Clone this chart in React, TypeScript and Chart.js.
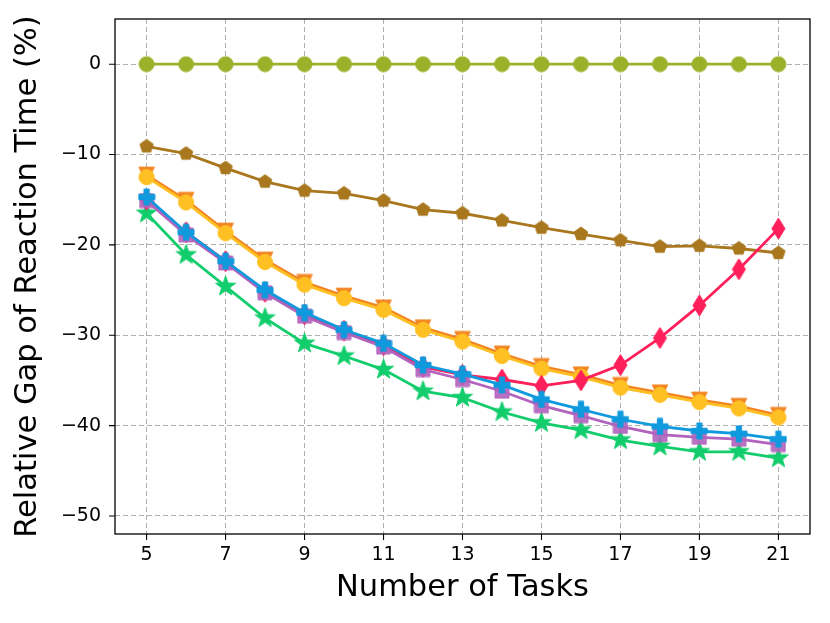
import { useEffect, useRef } from 'react';
import { Chart, registerables } from 'chart.js';
import type { Plugin } from 'chart.js';

Chart.register(...registerables);

// x values: number of tasks
const tasks = [5, 6, 7, 8, 9, 10, 11, 12, 13, 14, 15, 16, 17, 18, 19, 20, 21];

// relative gap of reaction time (%) per series
const baseline = [0, 0, 0, 0, 0, 0, 0, 0, 0, 0, 0, 0, 0, 0, 0, 0, 0];
const pentagonSeries = [-9.1, -9.9, -11.5, -13.0, -14.0, -14.3, -15.1, -16.1, -16.5, -17.3, -18.1, -18.8, -19.5, -20.2, -20.1, -20.4, -20.9];
const triangleSeries = [-12.25, -15.05, -18.45, -21.65, -24.15, -25.65, -26.95, -29.15, -30.45, -32.05, -33.45, -34.35, -35.55, -36.35, -37.15, -37.85, -38.85];
const circleSeries = [-12.5, -15.3, -18.7, -21.9, -24.4, -25.9, -27.2, -29.4, -30.7, -32.3, -33.7, -34.6, -35.8, -36.6, -37.4, -38.1, -39.1];
const diamondSeries = [-15.0, -18.6, -21.8, -25.2, -27.7, -29.5, -31.1, -33.5, -34.4, -34.9, -35.6, -35.0, -33.3, -30.3, -26.7, -22.7, -18.2];
const squareSeries = [-15.1, -18.9, -22.0, -25.3, -27.9, -29.7, -31.3, -33.8, -34.9, -36.2, -37.8, -38.9, -40.1, -41.0, -41.3, -41.5, -42.1];
const plusSeries = [-14.7, -18.6, -21.8, -25.0, -27.5, -29.4, -30.9, -33.3, -34.3, -35.5, -37.1, -38.2, -39.3, -40.1, -40.6, -40.9, -41.5];
const starSeries = [-16.5, -21.1, -24.6, -28.1, -30.9, -32.3, -33.8, -36.2, -36.9, -38.5, -39.7, -40.5, -41.6, -42.3, -42.9, -42.9, -43.6];

const xTicks = [5, 7, 9, 11, 13, 15, 17, 19, 21];
const yTicks = [-50, -40, -30, -20, -10, 0];

type Shape = 'circle' | 'pentagon' | 'triangleDown' | 'diamond' | 'square' | 'plus' | 'star';

// build a small canvas used as a point style
function marker(shape: Shape, color: string, h: number, alpha = 1): HTMLCanvasElement {
    const size = Math.ceil(2 * h + 2);
    const c = document.createElement('canvas');
    c.width = size;
    c.height = size;
    const ctx = c.getContext('2d')!;
    ctx.globalAlpha = alpha;
    ctx.fillStyle = color;
    ctx.strokeStyle = color;
    ctx.lineWidth = 1;
    ctx.translate(size / 2, size / 2);
    ctx.beginPath();
    const poly = (pts: number[][]) => {
        pts.forEach(([px, py], i) => (i === 0 ? ctx.moveTo(px, py) : ctx.lineTo(px, py)));
        ctx.closePath();
    };
    if (shape === 'circle') {
        ctx.arc(0, 0, h, 0, Math.PI * 2);
    } else if (shape === 'pentagon') {
        const pts = [];
        for (let k = 0; k < 5; k++) {
            const a = -Math.PI / 2 + (k * 2 * Math.PI) / 5;
            pts.push([Math.cos(a) * h, Math.sin(a) * h]);
        }
        poly(pts);
    } else if (shape === 'triangleDown') {
        poly([[-h, -h], [h, -h], [0, h]]);
    } else if (shape === 'diamond') {
        poly([[0, -h], [0.62 * h, 0], [0, h], [-0.62 * h, 0]]);
    } else if (shape === 'square') {
        poly([[-h, -h], [h, -h], [h, h], [-h, h]]);
    } else if (shape === 'plus') {
        const t = h / 3;
        poly([[-t, -h], [t, -h], [t, -t], [h, -t], [h, t], [t, t], [t, h], [-t, h], [-t, t], [-h, t], [-h, -t], [-t, -t]]);
    } else {
        const pts = [];
        for (let k = 0; k < 10; k++) {
            const r = k % 2 === 0 ? h : h * 0.4;
            const a = -Math.PI / 2 + (k * Math.PI) / 5;
            pts.push([Math.cos(a) * r, Math.sin(a) * r]);
        }
        poly(pts);
    }
    ctx.fill();
    ctx.stroke();
    return c;
}

const minus = (v: number) => (v < 0 ? '\u2212' + Math.abs(v) : String(v));

// black box around the plot plus outward tick marks
const framePlugin: Plugin<'line'> = {
    id: 'frame',
    afterDatasetsDraw(chart) {
        const { ctx, chartArea: a, scales } = chart;
        ctx.save();
        ctx.strokeStyle = '#000';
        ctx.lineWidth = 1.3;
        ctx.strokeRect(a.left, a.top, a.right - a.left, a.bottom - a.top);
        ctx.lineWidth = 1.1;
        ctx.beginPath();
        xTicks.forEach((t) => {
            const x = scales.x.getPixelForValue(t);
            ctx.moveTo(x, a.bottom);
            ctx.lineTo(x, a.bottom + 6);
        });
        yTicks.forEach((t) => {
            const y = scales.y.getPixelForValue(t);
            ctx.moveTo(a.left - 6, y);
            ctx.lineTo(a.left, y);
        });
        ctx.stroke();
        ctx.restore();
    },
};

const App: React.FC = () => {
    const chartRef = useRef<HTMLCanvasElement | null>(null);

    useEffect(() => {
        const ctx = chartRef.current?.getContext('2d');
        if (!ctx) return;

        const pts = (vals: number[]) => tasks.map((t, i) => ({ x: t, y: vals[i] }));
        const series = [
            { vals: plusSeries, color: '#109ade', style: marker('plus', '#109ade', 8), order: 1 },
            { vals: squareSeries, color: '#b163bd', style: marker('square', '#b163bd', 7, 0.9), order: 2 },
            { vals: diamondSeries, color: '#ff1f5b', style: marker('diamond', '#ff1f5b', 10.5), order: 3 },
            { vals: circleSeries, color: '#ffc024', style: marker('circle', '#ffc024', 7.6), order: 4 },
            { vals: triangleSeries, color: '#f28522', style: marker('triangleDown', '#f28522', 7.8), order: 5 },
            { vals: starSeries, color: '#12cd6c', style: marker('star', '#12cd6c', 10.5), order: 6 },
            { vals: pentagonSeries, color: '#a8771e', style: marker('pentagon', '#a8771e', 7), order: 7 },
            { vals: baseline, color: '#9cb12a', style: marker('circle', '#9cb12a', 7.5), order: 8 },
        ];

        const font = { family: "'DejaVu Sans', sans-serif" };

        const chart = new Chart(ctx, {
            type: 'line',
            data: {
                datasets: series.map((s) => ({
                    data: pts(s.vals),
                    borderColor: s.color,
                    backgroundColor: s.color,
                    borderWidth: 2.8,
                    pointStyle: s.style,
                    pointRadius: 7,
                    tension: 0,
                    order: s.order,
                })),
            },
            options: {
                responsive: false,
                animation: false,
                layout: { padding: { left: 0, top: 19, right: 20, bottom: 0 } },
                plugins: { legend: { display: false }, tooltip: { enabled: false } },
                scales: {
                    x: {
                        type: 'linear',
                        min: 4.2,
                        max: 21.8,
                        afterBuildTicks: (scale) => {
                            scale.ticks = xTicks.map((v) => ({ value: v }));
                        },
                        afterFit: (scale) => {
                            scale.height = 89;
                            scale.paddingLeft = 0;
                            scale.paddingRight = 0;
                        },
                        grid: { color: '#b0b0b0', lineWidth: 1, drawTicks: false },
                        border: { display: false, dash: [5, 3] },
                        ticks: {
                            padding: 10,
                            color: '#000',
                            font: { ...font, size: 19 },
                            maxRotation: 0,
                            callback: (v) => minus(Number(v)),
                        },
                        title: {
                            display: true,
                            text: 'Number of Tasks',
                            color: '#000',
                            font: { ...font, size: 30.5 },
                            padding: { top: 0, bottom: 17 },
                        },
                    },
                    y: {
                        type: 'linear',
                        min: -52,
                        max: 5,
                        afterBuildTicks: (scale) => {
                            scale.ticks = yTicks.map((v) => ({ value: v }));
                        },
                        afterFit: (scale) => {
                            scale.width = 115;
                            scale.paddingTop = 0;
                            scale.paddingBottom = 0;
                        },
                        grid: { color: '#b0b0b0', lineWidth: 1, drawTicks: false },
                        border: { display: false, dash: [5, 3] },
                        ticks: {
                            padding: 14,
                            color: '#000',
                            font: { ...font, size: 19 },
                            callback: (v) => minus(Number(v)),
                        },
                        title: {
                            display: true,
                            text: 'Relative Gap of Reaction Time (%)',
                            color: '#000',
                            font: { ...font, size: 30.5 },
                            padding: { top: 10, bottom: 0 },
                        },
                    },
                },
            },
            plugins: [framePlugin],
        });

        return () => {
            chart.destroy();
        };
    }, []);

    return (
        <div style={{ position: 'absolute', left: 0, top: 0, width: 830, height: 623, background: '#fff' }}>
            <canvas ref={chartRef} width={830} height={623} style={{ width: 830, height: 623 }}></canvas>
        </div>
    );
};

export default App;
